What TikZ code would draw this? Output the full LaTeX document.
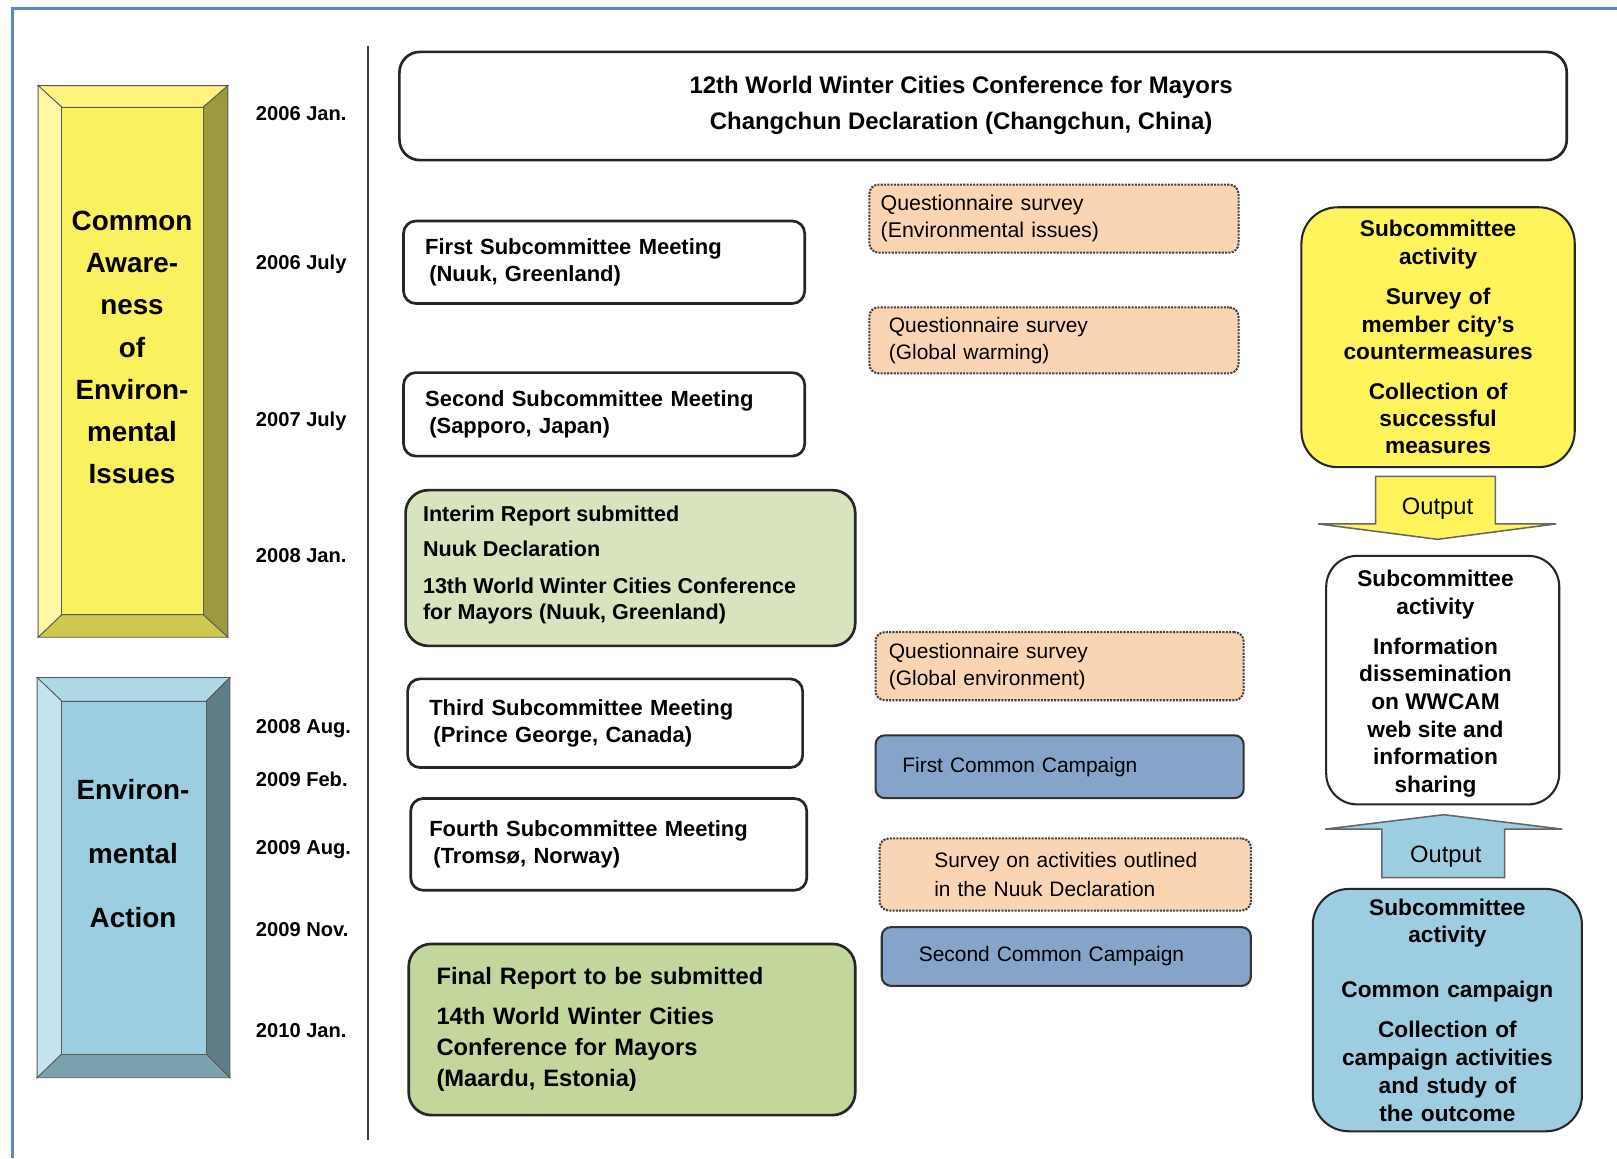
\documentclass[tikz,border=0pt]{standalone}
\usepackage{fontspec}
\setmainfont{Liberation Sans}
\definecolor{frameblue}{HTML}{5B87C5}
\definecolor{ylwface}{HTML}{FAF15E}
\definecolor{ylwtop}{HTML}{FFF57E}
\definecolor{ylwleft}{HTML}{FFF9A6}
\definecolor{ylwright}{HTML}{9C9A3E}
\definecolor{ylwbot}{HTML}{CEC84E}
\definecolor{bluface}{HTML}{9DCDE0}
\definecolor{blutop}{HTML}{AFD8E7}
\definecolor{bluleft}{HTML}{C6E4EF}
\definecolor{bluright}{HTML}{5F7E88}
\definecolor{blubot}{HTML}{7BA3AF}
\definecolor{greenA}{HTML}{D7E4BD}
\definecolor{greenB}{HTML}{C3D69B}
\definecolor{peach}{HTML}{FAD5B4}
\definecolor{campblue}{HTML}{86A3C9}
\definecolor{ryellow}{HTML}{FFF45C}
\begin{document}
\begin{tikzpicture}[x=1pt,y=-1pt,
  meet/.style={draw=black!85, line width=2.6pt, rounded corners=12pt, fill=white, anchor=north west, align=left, inner ysep=0pt, font=\bfseries\fontsize{21.3}{26}\selectfont},
  greenbox/.style={draw=black!85, line width=2.6pt, rounded corners=22pt, anchor=north west, align=left, inner ysep=0pt},
  survey/.style={draw=black!75, line width=2pt, dash pattern=on 2pt off 1.2pt, rounded corners=9pt, fill=peach, anchor=north west, align=left, inner ysep=0pt, font=\fontsize{20.3}{26}\selectfont},
  camp/.style={draw=black!80, line width=2pt, rounded corners=9pt, fill=campblue, anchor=north west, align=left, inner ysep=0pt, font=\fontsize{20.3}{26}\selectfont},
  act/.style={draw=black!85, line width=2pt, rounded corners=35pt, anchor=north west, align=center, inner xsep=5pt, inner ysep=0pt, font=\bfseries\fontsize{22}{26.5}\selectfont},
  datelbl/.style={anchor=base west, inner sep=0pt, font=\bfseries\fontsize{19.5}{22}\selectfont},
  bevtext/.style={align=center, inner sep=0pt, font=\bfseries\fontsize{27}{41}\selectfont},
  outtext/.style={inner sep=0pt, font=\fontsize{23}{26}\selectfont},
  facedraw/.style={draw=black!65, line width=0.8pt}
]
\useasboundingbox (0,0) rectangle (1568,1123);
% frame
\draw[frameblue, line width=3pt] (12,1123) -- (12,8) -- (1568,8);

% yellow bevel box
\fill[ylwtop, facedraw] (37,83) -- (221,83) -- (197,104) -- (60,104) -- cycle;
\fill[ylwleft, facedraw] (37,83) -- (60,104) -- (60,596) -- (37,618) -- cycle;
\fill[ylwright, facedraw] (221,83) -- (221,618) -- (197,596) -- (197,104) -- cycle;
\fill[ylwbot, facedraw] (37,618) -- (221,618) -- (197,596) -- (60,596) -- cycle;
\fill[ylwface, facedraw] (60,104) rectangle (197,596);
\node[bevtext] (awareness) at (128,337) {Common\\Aware-\\ness\\of\\Environ-\\mental\\Issues};

% blue bevel box
\fill[blutop, facedraw] (36,657) -- (223,657) -- (200,680) -- (60,680) -- cycle;
\fill[bluleft, facedraw] (36,657) -- (60,680) -- (60,1022) -- (36,1045) -- cycle;
\fill[bluright, facedraw] (223,657) -- (223,1045) -- (200,1022) -- (200,680) -- cycle;
\fill[blubot, facedraw] (36,1045) -- (223,1045) -- (200,1022) -- (60,1022) -- cycle;
\fill[bluface, facedraw] (60,680) rectangle (200,1022);
\node[bevtext, font=\bfseries\fontsize{27}{62}\selectfont] (action) at (129,828) {Environ-\\mental\\Action};

% timeline
\coordinate (tltop) at (357,45);
\coordinate (tlbot) at (357,1105);
\draw[black!75, line width=2.5pt] (tltop) -- (tlbot);

% dates
\node[datelbl] (d1) at (248,117) {2006 Jan.};
\node[datelbl] (d2) at (248,261) {2006 July};
\node[datelbl] (d3) at (248,414) {2007 July};
\node[datelbl] (d4) at (248,545) {2008 Jan.};
\node[datelbl] (d5) at (248,711) {2008 Aug.};
\node[datelbl] (d6) at (248,763) {2009 Feb.};
\node[datelbl] (d7) at (248,829) {2009 Aug.};
\node[datelbl] (d8) at (248,908) {2009 Nov.};
\node[datelbl] (d9) at (248,1006) {2010 Jan.};

% top conference box
\node[meet, rounded corners=20pt, minimum width=1132pt, minimum height=105pt] (conf12) at (386,49) {};
\node[inner sep=0pt, align=center, font=\bfseries\fontsize{23.2}{35}\selectfont] (conf12t) at (932,102)
  {12th World Winter Cities Conference for Mayors\\Changchun Declaration (Changchun, China)};

% meetings
\node[meet, inner xsep=21pt, text width=347pt, minimum height=80pt] (m1) at (390,213)
  {First Subcommittee Meeting\\\hspace*{4pt}(Nuuk, Greenland)};
\node[meet, inner xsep=21pt, text width=347pt, minimum height=81pt] (m2) at (390,360)
  {Second Subcommittee Meeting\\\hspace*{4pt}(Sapporo, Japan)};
\node[meet, inner xsep=21pt, text width=341pt, minimum height=86pt] (m3) at (394,657)
  {Third Subcommittee Meeting\\\hspace*{4pt}(Prince George, Canada)};
\node[meet, inner xsep=18pt, text width=348pt, minimum height=89pt] (m4) at (397,773)
  {Fourth Subcommittee Meeting\\\hspace*{4pt}(Tromsø, Norway)};

% reports
\node[greenbox, fill=greenA, minimum width=436pt, minimum height=151pt] (interim) at (392,474) {};
\node[anchor=north west, inner sep=0pt, align=left, font=\bfseries\fontsize{20.9}{25}\selectfont] (interimt) at (410,490)
  {Interim Report submitted\\[9pt]Nuuk Declaration\\[11pt]13th World Winter Cities Conference\\for Mayors (Nuuk, Greenland)};
\node[greenbox, fill=greenB, inner xsep=27pt, text width=379pt, minimum height=166pt, font=\bfseries\fontsize{23}{30.5}\selectfont] (final) at (395,914)
  {Final Report to be submitted\\[8pt]14th World Winter Cities\\Conference for Mayors\\(Maardu, Estonia)};

% surveys
\node[survey, inner xsep=11pt, text width=336pt, minimum height=66pt, font=\fontsize{20.7}{26}\selectfont] (q1) at (842,178)
  {Questionnaire survey\\(Environmental issues)};
\node[survey, inner xsep=19pt, text width=320pt, minimum height=64pt] (q2) at (842,297)
  {Questionnaire survey\\(Global warming)};
\node[survey, inner xsep=13pt, text width=331pt, minimum height=66pt] (q3) at (848,612)
  {Questionnaire survey\\(Global environment)};
\node[survey, inner xsep=50pt, text width=260pt, minimum height=70pt, font=\fontsize{20.3}{28}\selectfont] (q4) at (852,812)
  {\hspace*{3pt}Survey on activities outlined\\\hspace*{3pt}in the Nuuk Declaration};

% campaigns
\node[camp, inner xsep=26pt, text width=305pt, minimum height=61pt] (c1) at (848,712) {First Common Campaign};
\node[camp, inner xsep=36pt, text width=286pt, minimum height=57pt] (c2) at (854,898) {Second Common Campaign};

% right column
\node[act, fill=ryellow, text width=255pt, minimum height=252pt] (ract1) at (1261,200)
  {Subcommittee\\activity\\[13pt]Survey of\\member city's\\countermeasures\\[12pt]Collection of\\successful\\measures};
\node[act, fill=white, rounded corners=30pt, minimum width=226pt, minimum height=241pt] (ract2) at (1285,538) {};
\node[inner sep=0pt, align=center, font=\bfseries\fontsize{22}{26.7}\selectfont] (ract2t) at (1392,663)
  {Subcommittee\\activity\\[12pt]Information\\dissemination\\on WWCAM\\web site and\\information\\sharing};
\node[act, fill=bluface, text width=251pt, minimum height=235pt, font=\bfseries\fontsize{22}{27}\selectfont] (ract3) at (1272,861)
  {Subcommittee\\activity\\[26pt]Common campaign\\[12pt]Collection of\\campaign activities\\and study of\\the outcome};

% output arrows
\draw[fill=ryellow, draw=black!60, line width=1.5pt]
  (1334,462) -- (1450,462) -- (1450,508) -- (1509,508) -- (1394,523) -- (1278,508) -- (1334,508) -- cycle;
\node[outtext] (out1) at (1394,493) {Output};
\draw[fill=bluface, draw=black!60, line width=1.5pt]
  (1340,851) -- (1459,851) -- (1459,804) -- (1515,804) -- (1400,790) -- (1285,804) -- (1340,804) -- cycle;
\node[outtext] (out2) at (1402,831) {Output};
\end{tikzpicture}
\end{document}
